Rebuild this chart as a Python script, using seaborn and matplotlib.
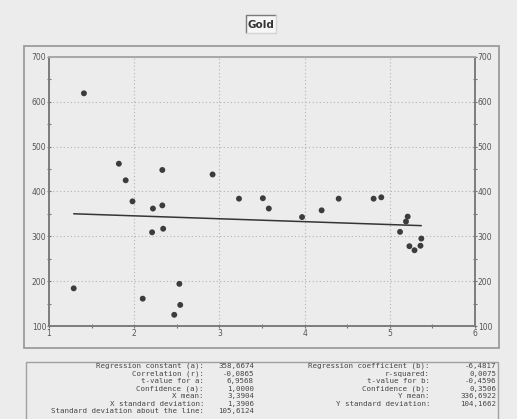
import numpy as np
import pandas as pd
import matplotlib
matplotlib.use("Agg")
import matplotlib.pyplot as plt
import seaborn as sns
from matplotlib.patches import Rectangle
from matplotlib.lines import Line2D
from matplotlib.ticker import MultipleLocator

# ---------------- data ----------------
title = "Gold"
x_values = [1.41, 1.82, 1.90, 2.33, 2.92, 3.23, 1.29, 1.98, 2.22, 2.33,
            2.21, 2.34, 2.53, 2.10, 2.54, 2.47,
            3.51, 3.58, 3.97, 4.20, 4.40, 4.81, 4.90, 5.21, 5.19, 5.12,
            5.23, 5.29, 5.36, 5.37]
y_values = [619, 462, 425, 448, 438, 384, 184, 378, 362, 369,
            309, 317, 194, 161, 147, 125,
            385, 362, 343, 358, 384, 384, 387, 344, 333, 310,
            278, 269, 279, 295]
reg_a = 358.6674
reg_b = -6.4817
x_ticks = [1, 2, 3, 4, 5, 6]
y_ticks = [100, 200, 300, 400, 500, 600, 700]

left_labels = ["Regression constant (a):", "Correlation (r):", "t-value for a:",
               "Confidence (a):", "X mean:", "X standard deviation:",
               "Standard deviation about the line:"]
left_values = ["358,6674", "-0,0865", "6,9568", "1,0000", "3,3904", "1,3906", "105,6124"]
right_labels = ["Regression coefficient (b):", "r-squared:", "t-value for b:",
                "Confidence (b):", "Y mean:", "Y standard deviation:"]
right_values = ["-6,4817", "0,0075", "-0,4596", "0,3506", "336,6922", "104,1662"]

# ---------------- figure ----------------
W, H = 517, 419
BG = "#ececec"
sns.set_theme(style="white")
plt.rcParams["font.family"] = ["DejaVu Sans"]

fig = plt.figure(figsize=(W / 100, H / 100), dpi=100, facecolor=BG)


def fx(px):
    return px / W


def fy(py):
    return 1 - py / H


# outer panel box
fig.patches.append(Rectangle((fx(24), fy(348)), fx(499) - fx(24), fy(46) - fy(348),
                             transform=fig.transFigure, fill=False,
                             edgecolor="#9c9c9c", lw=1.3, zorder=0))
# stats box
fig.patches.append(Rectangle((fx(26), fy(425)), fx(498) - fx(26), fy(362) - fy(425),
                             transform=fig.transFigure, fill=False,
                             edgecolor="#a0a0a0", lw=1.0, zorder=0))

# title box (sunken look)
tb_x0, tb_x1, tb_y0, tb_y1 = 246, 276, 15, 33
fig.patches.append(Rectangle((fx(tb_x0), fy(tb_y1)), fx(tb_x1) - fx(tb_x0), fy(tb_y0) - fy(tb_y1),
                             transform=fig.transFigure, facecolor="#f6f6f6",
                             edgecolor="none", zorder=0))
fig.lines.append(Line2D([fx(tb_x0), fx(tb_x0), fx(tb_x1)], [fy(tb_y1), fy(tb_y0), fy(tb_y0)],
                        transform=fig.transFigure, color="#7a7a7a", lw=1.0))
fig.lines.append(Line2D([fx(tb_x0), fx(tb_x1), fx(tb_x1)], [fy(tb_y1), fy(tb_y1), fy(tb_y0)],
                        transform=fig.transFigure, color="#d4d4d4", lw=1.0))
fig.text(fx(261), fy(24.5), title, ha="center", va="center", fontsize=7.5,
         fontweight="bold", color="#333333")

# main axes
ax = fig.add_axes([fx(49), fy(326), fx(475) - fx(49), fy(57) - fy(326)])
ax.set_facecolor(BG)

df = pd.DataFrame({"x": x_values, "y": y_values})
line_df = pd.DataFrame({"x": [min(x_values), max(x_values)]})
line_df["y"] = reg_a + reg_b * line_df["x"]

sns.lineplot(data=line_df, x="x", y="y", ax=ax, color="#353535", lw=1.1, zorder=2)
sns.scatterplot(data=df, x="x", y="y", ax=ax, color="#3c3c3c", s=18,
                edgecolor="none", zorder=3)

ax.set_xlim(1, 6)
ax.set_ylim(100, 700)
ax.set_xlabel("")
ax.set_ylabel("")
ax.set_xticks(x_ticks)
ax.set_yticks(y_ticks)
ax.xaxis.set_minor_locator(MultipleLocator(0.5))
ax.yaxis.set_minor_locator(MultipleLocator(50))
ax.tick_params(which="both", direction="inout", color="#777777", labelcolor="#555555",
               labelsize=5.5, left=True, right=True, bottom=True, top=False,
               labelleft=True, labelright=True, length=3, width=0.8, pad=0.5)
ax.grid(True, which="major", linestyle=(0, (1, 2.2)), color="#b2b2b2", lw=0.8)
ax.set_axisbelow(True)

for side in ["left", "bottom", "right"]:
    ax.spines[side].set_color("#7c7c7c")
    ax.spines[side].set_linewidth(1.4)
ax.spines["top"].set_color("#a8a8a8")
ax.spines["top"].set_linewidth(1.4)

# stats text
mono = ["DejaVu Sans Mono"]
row_y0, row_dy = 366, 7.5
for i, (lab, val) in enumerate(zip(left_labels, left_values)):
    y = fy(row_y0 + i * row_dy)
    fig.text(fx(204), y, lab, ha="right", va="center", fontsize=5.4, family=mono, color="#474747")
    fig.text(fx(254), y, val, ha="right", va="center", fontsize=5.4, family=mono, color="#474747")
for i, (lab, val) in enumerate(zip(right_labels, right_values)):
    y = fy(row_y0 + i * row_dy)
    fig.text(fx(430), y, lab, ha="right", va="center", fontsize=5.4, family=mono, color="#474747")
    fig.text(fx(496), y, val, ha="right", va="center", fontsize=5.4, family=mono, color="#474747")

fig.savefig("out.png", dpi=100, facecolor=BG)
